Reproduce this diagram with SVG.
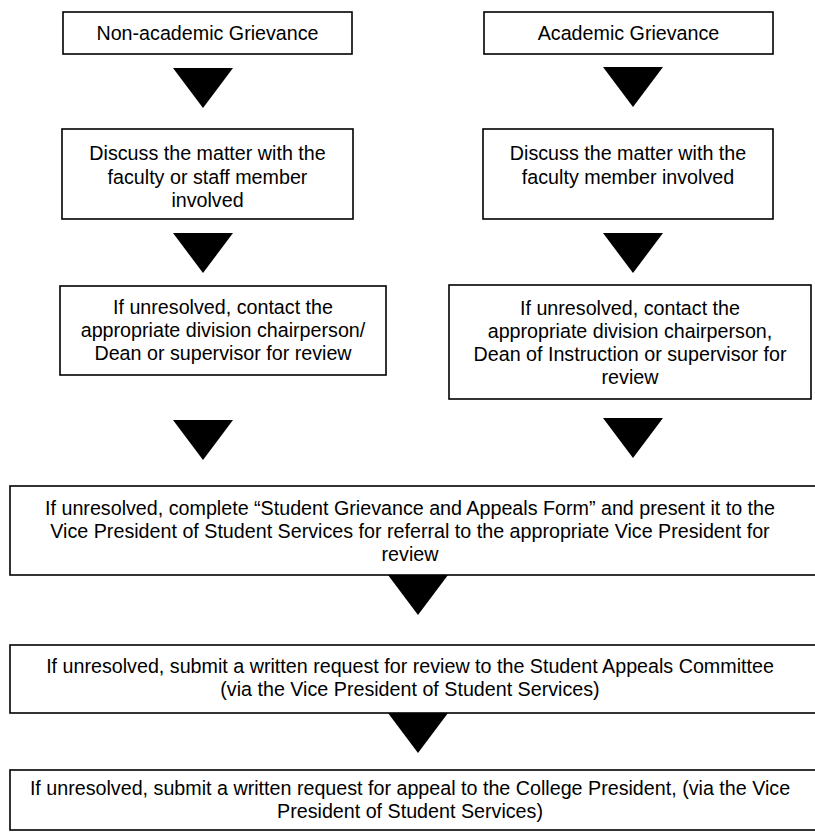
<svg xmlns="http://www.w3.org/2000/svg" xmlns:xlink="http://www.w3.org/1999/xlink" width="815" height="832" viewBox="0 0 815 832">
<style>
.box{fill:#fff;stroke:#000;stroke-width:1.6}
.t{font-family:"Liberation Sans",Arial,sans-serif;font-size:19.7px;fill:#000;text-anchor:middle}
.arrow{fill:#000}
</style>
<defs>
<polygon id="tri" points="-30,0 30,0 0,40"/>
</defs>
<rect x="0" y="0" width="815" height="832" fill="#fff"/>
<g id="connectors">
<use href="#tri" xlink:href="#tri" class="arrow" x="203" y="68"/>
<use href="#tri" xlink:href="#tri" class="arrow" x="633" y="67"/>
<use href="#tri" xlink:href="#tri" class="arrow" x="203" y="233"/>
<use href="#tri" xlink:href="#tri" class="arrow" x="633" y="233"/>
<use href="#tri" xlink:href="#tri" class="arrow" x="203" y="420"/>
<use href="#tri" xlink:href="#tri" class="arrow" x="633" y="418"/>
<use href="#tri" xlink:href="#tri" class="arrow" x="418" y="575"/>
<use href="#tri" xlink:href="#tri" class="arrow" x="418" y="713"/>
</g>
<g id="node-nonacademic">
<rect class="box" x="63" y="12" width="289" height="42"/>
<text class="t" x="207.5" y="40">Non-academic Grievance</text>
</g>
<g id="node-academic">
<rect class="box" x="484" y="12" width="289" height="42"/>
<text class="t" x="628.5" y="40">Academic Grievance</text>
</g>
<g id="node-discuss-staff">
<rect class="box" x="62" y="129" width="291" height="90"/>
<text class="t" x="207.5" y="160">Discuss the matter with the</text>
<text class="t" x="207.5" y="183.5">faculty or staff member</text>
<text class="t" x="207.5" y="207">involved</text>
</g>
<g id="node-discuss-faculty">
<rect class="box" x="483" y="129" width="290" height="90"/>
<text class="t" x="628" y="160">Discuss the matter with the</text>
<text class="t" x="628" y="183.5">faculty member involved</text>
</g>
<g id="node-contact-left">
<rect class="box" x="60" y="286" width="326" height="89"/>
<text class="t" x="223" y="314">If unresolved, contact the</text>
<text class="t" x="223" y="337">appropriate division chairperson/</text>
<text class="t" x="223" y="360">Dean or supervisor for review</text>
</g>
<g id="node-contact-right">
<rect class="box" x="449" y="285" width="362" height="114"/>
<text class="t" x="630" y="315">If unresolved, contact the</text>
<text class="t" x="630" y="338">appropriate division chairperson,</text>
<text class="t" x="630" y="361">Dean of Instruction or supervisor for</text>
<text class="t" x="630" y="384">review</text>
</g>
<g id="node-form">
<rect class="box" x="10" y="486" width="810" height="89"/>
<text class="t" x="410" y="515">If unresolved, complete “Student Grievance and Appeals Form” and present it to the</text>
<text class="t" x="410" y="538">Vice President of Student Services for referral to the appropriate Vice President for</text>
<text class="t" x="410" y="561">review</text>
</g>
<g id="node-committee">
<rect class="box" x="10" y="645" width="810" height="68"/>
<text class="t" x="410" y="673">If unresolved, submit a written request for review to the Student Appeals Committee</text>
<text class="t" x="410" y="696">(via the Vice President of Student Services)</text>
</g>
<g id="node-president">
<rect class="box" x="10" y="770" width="810" height="60"/>
<text class="t" x="410" y="795">If unresolved, submit a written request for appeal to the College President, (via the Vice</text>
<text class="t" x="410" y="818">President of Student Services)</text>
</g>
</svg>
